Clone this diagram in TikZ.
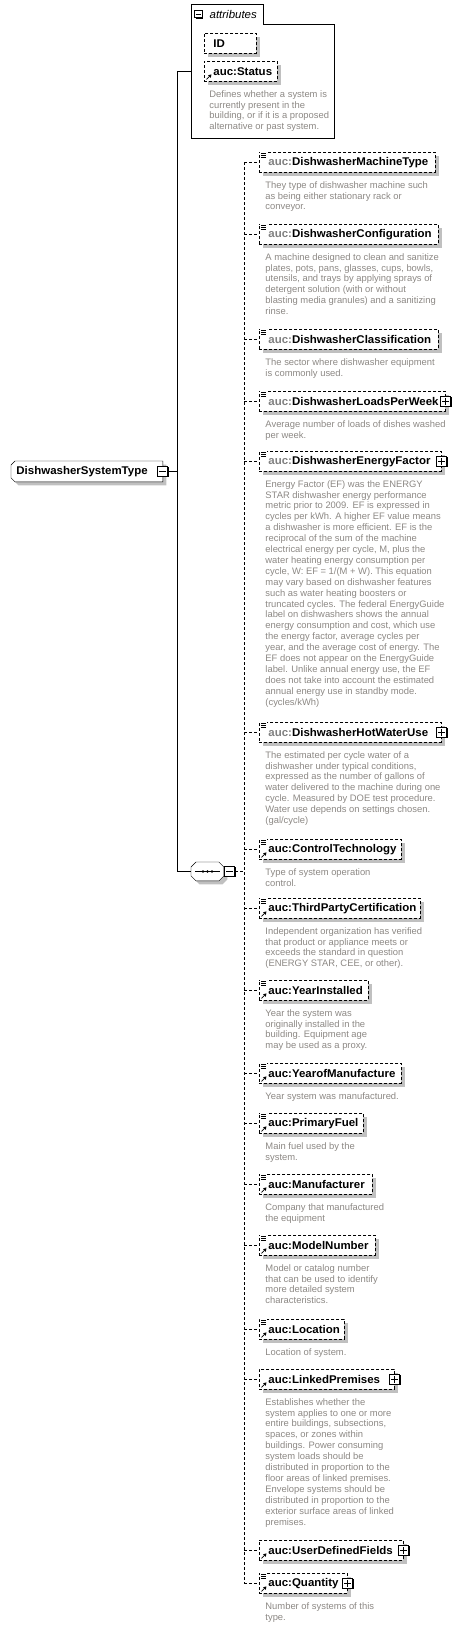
\documentclass[tikz,border=0pt]{standalone}
\usepackage{fontspec}
\setmainfont{Liberation Sans}
\newfontfamily\namefam[FakeStretch=1.025]{Liberation Sans}
\usetikzlibrary{calc, positioning, arrows.meta, shadows, backgrounds}
\definecolor{descgray}{RGB}{140,136,132}
\definecolor{pfxgray}{RGB}{128,128,128}
\definecolor{shadegray}{RGB}{192,192,192}
\newcommand\elfont{\namefam\fontsize{11.2}{13}\selectfont\bfseries}
\newcommand\descfont{\fontsize{9.4}{10.9}\selectfont}

\begin{document}
\begin{tikzpicture}[x=1pt, y=-1pt, line width=0.9pt,
    boxshadow/.style={drop shadow={shadow xshift=3.5pt, shadow yshift=-3.5pt, opacity=1, fill=shadegray}},
    link/.style={dash pattern=on 3pt off 2pt},
    elbox/.style={draw, link, fill=white, boxshadow, anchor=north west, inner xsep=9pt, inner ysep=0pt,
        minimum height=20pt, align=left, font=\elfont},
    desc/.style={anchor=north west, inner sep=0pt, align=left, text=descgray, font=\descfont},
    pmbox/.style={draw, solid, fill=white, minimum size=10pt, inner sep=0pt,
        drop shadow={shadow xshift=0.9pt, shadow yshift=-0.9pt, opacity=1, fill=black}},
    refarrow/.style={-{Triangle[length=3pt,width=3.5pt]}, line width=0.8pt}]
\useasboundingbox (0,0) rectangle (466,1626);

% root type
\node[anchor=north west, minimum height=20pt, text width=141pt, inner xsep=5pt, inner ysep=0pt,
    align=left, font=\elfont] (root) at (11,461) {DishwasherSystemType};
\begin{scope}[on background layer]
\draw[fill=white, boxshadow] ([yshift=-4pt]root.north west) -- ([xshift=4pt]root.north west)
    -- (root.north east) -- (root.south east) -- ([xshift=4pt]root.south west)
    -- ([yshift=4pt]root.south west) -- cycle;
\end{scope}
\node[pmbox] (rootpm) at (root.east) {};
\draw ([xshift=2pt]rootpm.west) -- ([xshift=-2pt]rootpm.east);
\coordinate (fork) at ([xshift=9pt]rootpm.east);

% attributes
\node[inner sep=0pt, minimum width=143pt, minimum height=114pt, anchor=north west] (attr) at (191,24) {};
\node[inner sep=0pt, minimum width=72pt, minimum height=19pt, anchor=south west] (tab) at (attr.north west) {};
\draw (attr.south west) |- (tab.north east) |- (attr.north east) -- (attr.south east) -- cycle;
\node[pmbox, minimum size=7.5pt] (tabpm) at ([xshift=7.5pt]tab.west) {};
\draw ([xshift=1.5pt]tabpm.west) -- ([xshift=-1.5pt]tabpm.east);
\node[right=6.5pt of tabpm, inner sep=0pt, font=\namefam\fontsize{11.2}{13}\selectfont\itshape] (tablbl) {attributes};
\node[elbox, text width=34pt] (id) at (204,33) {ID};
\node[elbox, text width=55pt] (status) at (204,61) {auc:Status};
\draw[refarrow] ([xshift=2.5pt,yshift=2.5pt]status.south west) -- ++(5pt,5pt);
\node[desc] (statusdesc) at ([xshift=5pt,yshift=-8pt]status.south west)
    {Defines whether a system is\\currently present in the\\building, or if it is a proposed\\alternative or past system.};

% sequence
\node[minimum width=32pt, minimum height=18pt, inner sep=0pt, anchor=north west] (seq) at (191,862) {};
\begin{scope}[on background layer]
\draw[fill=white, boxshadow] ([yshift=-5pt]seq.north west) -- ([xshift=5pt]seq.north west)
    -- ([xshift=-5pt]seq.north east) -- ([yshift=-5pt]seq.north east)
    -- ([yshift=5pt]seq.south east) -- ([xshift=-5pt]seq.south east)
    -- ([xshift=5pt]seq.south west) -- ([yshift=5pt]seq.south west) -- cycle;
\end{scope}
\draw ([xshift=4pt]seq.west) -- ([xshift=-4pt]seq.east);
\foreach \k in {-4.5,0,4.5}
    \fill ([xshift=\k pt]seq.center) circle (1.4pt);
\node[pmbox, anchor=west] (seqpm) at ([xshift=0.5pt]seq.east) {};
\draw ([xshift=2pt]seqpm.west) -- ([xshift=-2pt]seqpm.east);
\coordinate (bus) at ([xshift=9pt]seqpm.east);

\draw (rootpm.east) -- (fork);
\draw (attr.west |- status.west) -| (fork) |- (seq.west);
\draw[link] (seqpm.east) -- (bus);

% elements
\foreach \i/\ty/\rx/\nm [evaluate=\rx as \tw using \rx-277] in {
    1/152/435/{\textcolor{pfxgray}{auc:}DishwasherMachineType},
    2/224/438/{\textcolor{pfxgray}{auc:}DishwasherConfiguration},
    3/329/438/{\textcolor{pfxgray}{auc:}DishwasherClassification},
    4/391/445/{\textcolor{pfxgray}{auc:}DishwasherLoadsPerWeek},
    5/451/441/{\textcolor{pfxgray}{auc:}DishwasherEnergyFactor},
    6/722/441/{\textcolor{pfxgray}{auc:}DishwasherHotWaterUse},
    7/839/401/auc:ControlTechnology,
    8/898/420/auc:ThirdPartyCertification,
    9/980/368/auc:YearInstalled,
    10/1063/401/auc:YearofManufacture,
    11/1113/363/auc:PrimaryFuel,
    12/1174/372/auc:Manufacturer,
    13/1235/375/auc:ModelNumber,
    14/1319/344/auc:Location,
    15/1369/394/auc:LinkedPremises,
    16/1540/403/auc:UserDefinedFields,
    17/1573/347/auc:Quantity}{
    \node[elbox, text width=\tw pt] (e\i) at (259,\ty) {\nm};
    \draw[link] (bus |- e\i.west) -- (e\i.west);
}
\draw[link] (bus |- e1.west) -- (bus |- e17.west);

% icons
\foreach \i in {1,...,14,17}{
    \fill[white] ([xshift=1pt,yshift=0.5pt]e\i.north west) rectangle ++(7pt,-6.5pt);
    \foreach \k in {1,3,5}
        \draw[line width=0.8pt] ([xshift=2pt,yshift=-\k pt]e\i.north west) -- ++(5pt,0pt);
}
\foreach \i in {7,...,17}
    \draw[refarrow] ([xshift=2.5pt,yshift=2.5pt]e\i.south west) -- ++(5pt,5pt);
\foreach \i in {4,5,6,15,16,17}{
    \node[pmbox] (p\i) at (e\i.east) {};
    \draw ([xshift=2pt]p\i.west) -- ([xshift=-2pt]p\i.east);
    \draw ([yshift=-2pt]p\i.north) -- ([yshift=2pt]p\i.south);
}

% documentation
\foreach \i/\txt in {
    1/{They type of dishwasher machine such\\as being either stationary rack or\\conveyor.},
    2/{A machine designed to clean and sanitize\\plates, pots, pans, glasses, cups, bowls,\\utensils, and trays by applying sprays of\\detergent solution (with or without\\blasting media granules) and a sanitizing\\rinse.},
    3/{The sector where dishwasher equipment\\is commonly used.},
    4/{Average number of loads of dishes washed\\per week.},
    5/{Energy Factor (EF) was the ENERGY\\STAR dishwasher energy performance\\metric prior to 2009. EF is expressed in\\cycles per kWh. A higher EF value means\\a dishwasher is more efficient. EF is the\\reciprocal of the sum of the machine\\electrical energy per cycle, M, plus the\\water heating energy consumption per\\cycle, W: EF = 1/(M + W). This equation\\may vary based on dishwasher features\\such as water heating boosters or\\truncated cycles. The federal EnergyGuide\\label on dishwashers shows the annual\\energy consumption and cost, which use\\the energy factor, average cycles per\\year, and the average cost of energy. The\\EF does not appear on the EnergyGuide\\label. Unlike annual energy use, the EF\\does not take into account the estimated\\annual energy use in standby mode.\\(cycles/kWh)},
    6/{The estimated per cycle water of a\\dishwasher under typical conditions,\\expressed as the number of gallons of\\water delivered to the machine during one\\cycle. Measured by DOE test procedure.\\Water use depends on settings chosen.\\(gal/cycle)},
    7/{Type of system operation\\control.},
    8/{Independent organization has verified\\that product or appliance meets or\\exceeds the standard in question\\(ENERGY STAR, CEE, or other).},
    9/{Year the system was\\originally installed in the\\building. Equipment age\\may be used as a proxy.},
    10/{Year system was manufactured.},
    11/{Main fuel used by the\\system.},
    12/{Company that manufactured\\the equipment},
    13/{Model or catalog number\\that can be used to identify\\more detailed system\\characteristics.},
    14/{Location of system.},
    15/{Establishes whether the\\system applies to one or more\\entire buildings, subsections,\\spaces, or zones within\\buildings. Power consuming\\system loads should be\\distributed in proportion to the\\floor areas of linked premises.\\Envelope systems should be\\distributed in proportion to the\\exterior surface areas of linked\\premises.},
    17/{Number of systems of this\\type.}}
    \node[desc] (d\i) at ([xshift=6pt,yshift=-8pt]e\i.south west) {\txt};
\end{tikzpicture}
\end{document}
